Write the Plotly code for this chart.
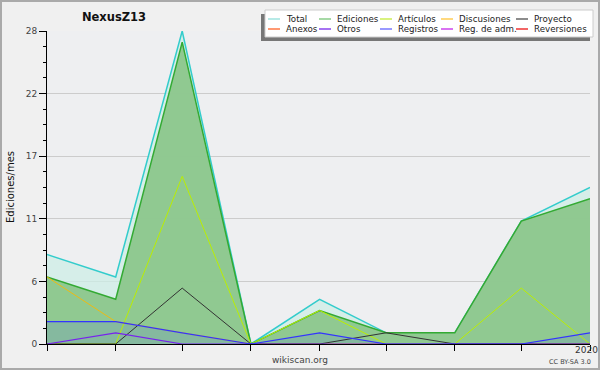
import plotly.graph_objects as go

# ---------------- data ----------------
months = ["2019-05-01", "2019-06-01", "2019-07-01", "2019-08-01", "2019-09-01",
          "2019-10-01", "2019-11-01", "2019-12-01", "2020-01-01"]
total = [8, 6, 28, 0, 4, 1, 1, 11, 14]
ediciones = [6, 4, 27, 0, 3, 1, 1, 11, 13]
articulos = [0, 0, 15, 0, 3, 0, 0, 5, 0]
discusiones = [6, 2, 1, 0, 0, 0, 0, 0, 0]
proyecto = [0, 0, 5, 0, 0, 1, 0, 0, 0]
otros = [0, 1, 0, 0, 0, 0, 0, 0, 0]
registros = [2, 2, 1, 0, 1, 0, 0, 0, 1]

year_label = "2020"
y_tickvals = [0, 5.6, 11.2, 16.8, 22.4, 28]
y_ticktext = ["0", "6", "11", "17", "22", "28"]

legend_names = [["Total", "Ediciones", "Artículos", "Discusiones", "Proyecto"],
                ["Anexos", "Otros", "Registros", "Reg. de adm.", "Reversiones"]]
legend_colors = [["#9fe3df", "#88cc88", "#ccee55", "#ffcc55", "#666666"],
                 ["#ff7744", "#8844ee", "#7777ff", "#cc44ee", "#ee3333"]]

# ---------------- layout geometry ----------------
W, H = 600, 370
ML, MR, MT, MB = 47, 10, 31, 26
PW, PH = W - ML - MR, H - MT - MB
FONT = "DejaVu Sans"


def px(x):
    return (x - ML) / PW


def py(y):
    return (H - MB - y) / PH


fig = go.Figure()

fig.add_trace(go.Scatter(x=months, y=total, mode="lines", fill="tozeroy",
                         fillcolor="rgba(205,238,230,0.75)",
                         line=dict(color="#33cccc", width=1.5), name="Total"))
fig.add_trace(go.Scatter(x=months, y=ediciones, mode="lines", fill="tozeroy",
                         fillcolor="rgba(140,198,140,0.95)",
                         line=dict(color="#33aa33", width=1.5), name="Ediciones"))
fig.add_trace(go.Scatter(x=months, y=registros, mode="lines", fill="tozeroy",
                         fillcolor="rgba(60,80,255,0.13)",
                         line=dict(color="rgba(0,0,0,0)", width=0), name="Registros fill"))
fig.add_trace(go.Scatter(x=months, y=discusiones, mode="lines",
                         line=dict(color="#eebb11", width=1), name="Discusiones"))
fig.add_trace(go.Scatter(x=months, y=articulos, mode="lines",
                         line=dict(color="#bbee00", width=1), name="Artículos"))
fig.add_trace(go.Scatter(x=months, y=proyecto, mode="lines",
                         line=dict(color="#333333", width=1), name="Proyecto"))
fig.add_trace(go.Scatter(x=months, y=otros, mode="lines",
                         line=dict(color="#7722ee", width=1.2), name="Otros"))
fig.add_trace(go.Scatter(x=months, y=registros, mode="lines",
                         line=dict(color="#3333ff", width=1.2), name="Registros"))

shapes = []
annotations = []

# outer border of the image
shapes.append(dict(type="rect", xref="paper", yref="paper",
                   x0=px(1), x1=px(W - 1), y0=py(H - 1), y1=py(1),
                   line=dict(color="#aaaaaa", width=2), fillcolor="rgba(0,0,0,0)",
                   layer="below"))

# legend box (shadow + white box)
shapes.append(dict(type="rect", xref="paper", yref="paper",
                   x0=px(261), x1=px(590), y0=py(41), y1=py(14),
                   line=dict(width=0), fillcolor="#777777"))
shapes.append(dict(type="rect", xref="paper", yref="paper",
                   x0=px(265), x1=px(593), y0=py(37), y1=py(10),
                   line=dict(color="#cccccc", width=1), fillcolor="#ffffff"))

col_line_x = [268, 319, 380, 441, 516]
col_text_x = [284, 335, 396, 457, 532]
row_y = [19, 29]
for r in range(2):
    for c in range(5):
        shapes.append(dict(type="line", xref="paper", yref="paper",
                           x0=px(col_line_x[c]), x1=px(col_line_x[c] + 12),
                           y0=py(row_y[r]), y1=py(row_y[r]),
                           line=dict(color=legend_colors[r][c], width=1.5)))
        annotations.append(dict(xref="paper", yref="paper",
                                x=px(col_text_x[c]), y=py(row_y[r]),
                                xanchor="left", yanchor="middle",
                                text=legend_names[r][c], showarrow=False,
                                font=dict(family=FONT, size=8.7, color="#222222")))

annotations.append(dict(xref="x", yref="paper", x=months[-1], y=py(350),
                        xanchor="right", yanchor="middle", xshift=9,
                        text=year_label, showarrow=False, borderpad=0,
                        font=dict(family=FONT, size=9, color="#333333")))
annotations.append(dict(xref="paper", yref="paper", x=px(300), y=py(360),
                        xanchor="center", yanchor="middle", text="wikiscan.org",
                        showarrow=False, font=dict(family=FONT, size=9, color="#444444")))
annotations.append(dict(xref="paper", yref="paper", x=px(593), y=py(362),
                        xanchor="right", yanchor="middle", text="CC BY-SA 3.0",
                        showarrow=False, font=dict(family=FONT, size=6.5, color="#444444")))
annotations.append(dict(xref="paper", yref="paper", x=px(10), y=py(187),
                        xanchor="center", yanchor="middle", text="Ediciones/mes",
                        textangle=-90, showarrow=False,
                        font=dict(family=FONT, size=10, color="#111111")))

fig.update_layout(
    width=W, height=H,
    margin=dict(l=ML, r=MR, t=MT, b=MB, pad=0),
    paper_bgcolor="#f0f0f0",
    plot_bgcolor="#eeeff1",
    showlegend=False,
    title=dict(text="<b>NexusZ13</b>", x=px(114), xref="paper", xanchor="center",
               y=1 - 17 / H, yref="container", yanchor="middle",
               font=dict(family=FONT, size=11.5, color="#111111")),
    font=dict(family=FONT, size=9, color="#444444"),
    shapes=shapes,
    annotations=annotations,
    xaxis=dict(type="date", range=[months[0], months[-1]],
               tickvals=months, showticklabels=False,
               ticks="outside", ticklen=6, tickcolor="#000000",
               showline=True, linecolor="#000000", linewidth=1,
               showgrid=False, zeroline=False),
    yaxis=dict(range=[0, 28], tickvals=y_tickvals, ticktext=y_ticktext,
               ticks="outside", ticklen=7, tickcolor="#000000",
               showline=True, linecolor="#000000", linewidth=1,
               showgrid=True, gridcolor="#cccccc", gridwidth=1, zeroline=False,
               tickfont=dict(family=FONT, size=9, color="#444444"),
               minor=dict(dtick=1.4, tick0=0, ticks="outside", ticklen=3,
                          tickcolor="#000000", showgrid=False)),
)

fig.write_html("out.html", config={"displayModeBar": False},
               post_script="document.body.style.margin='0';")
